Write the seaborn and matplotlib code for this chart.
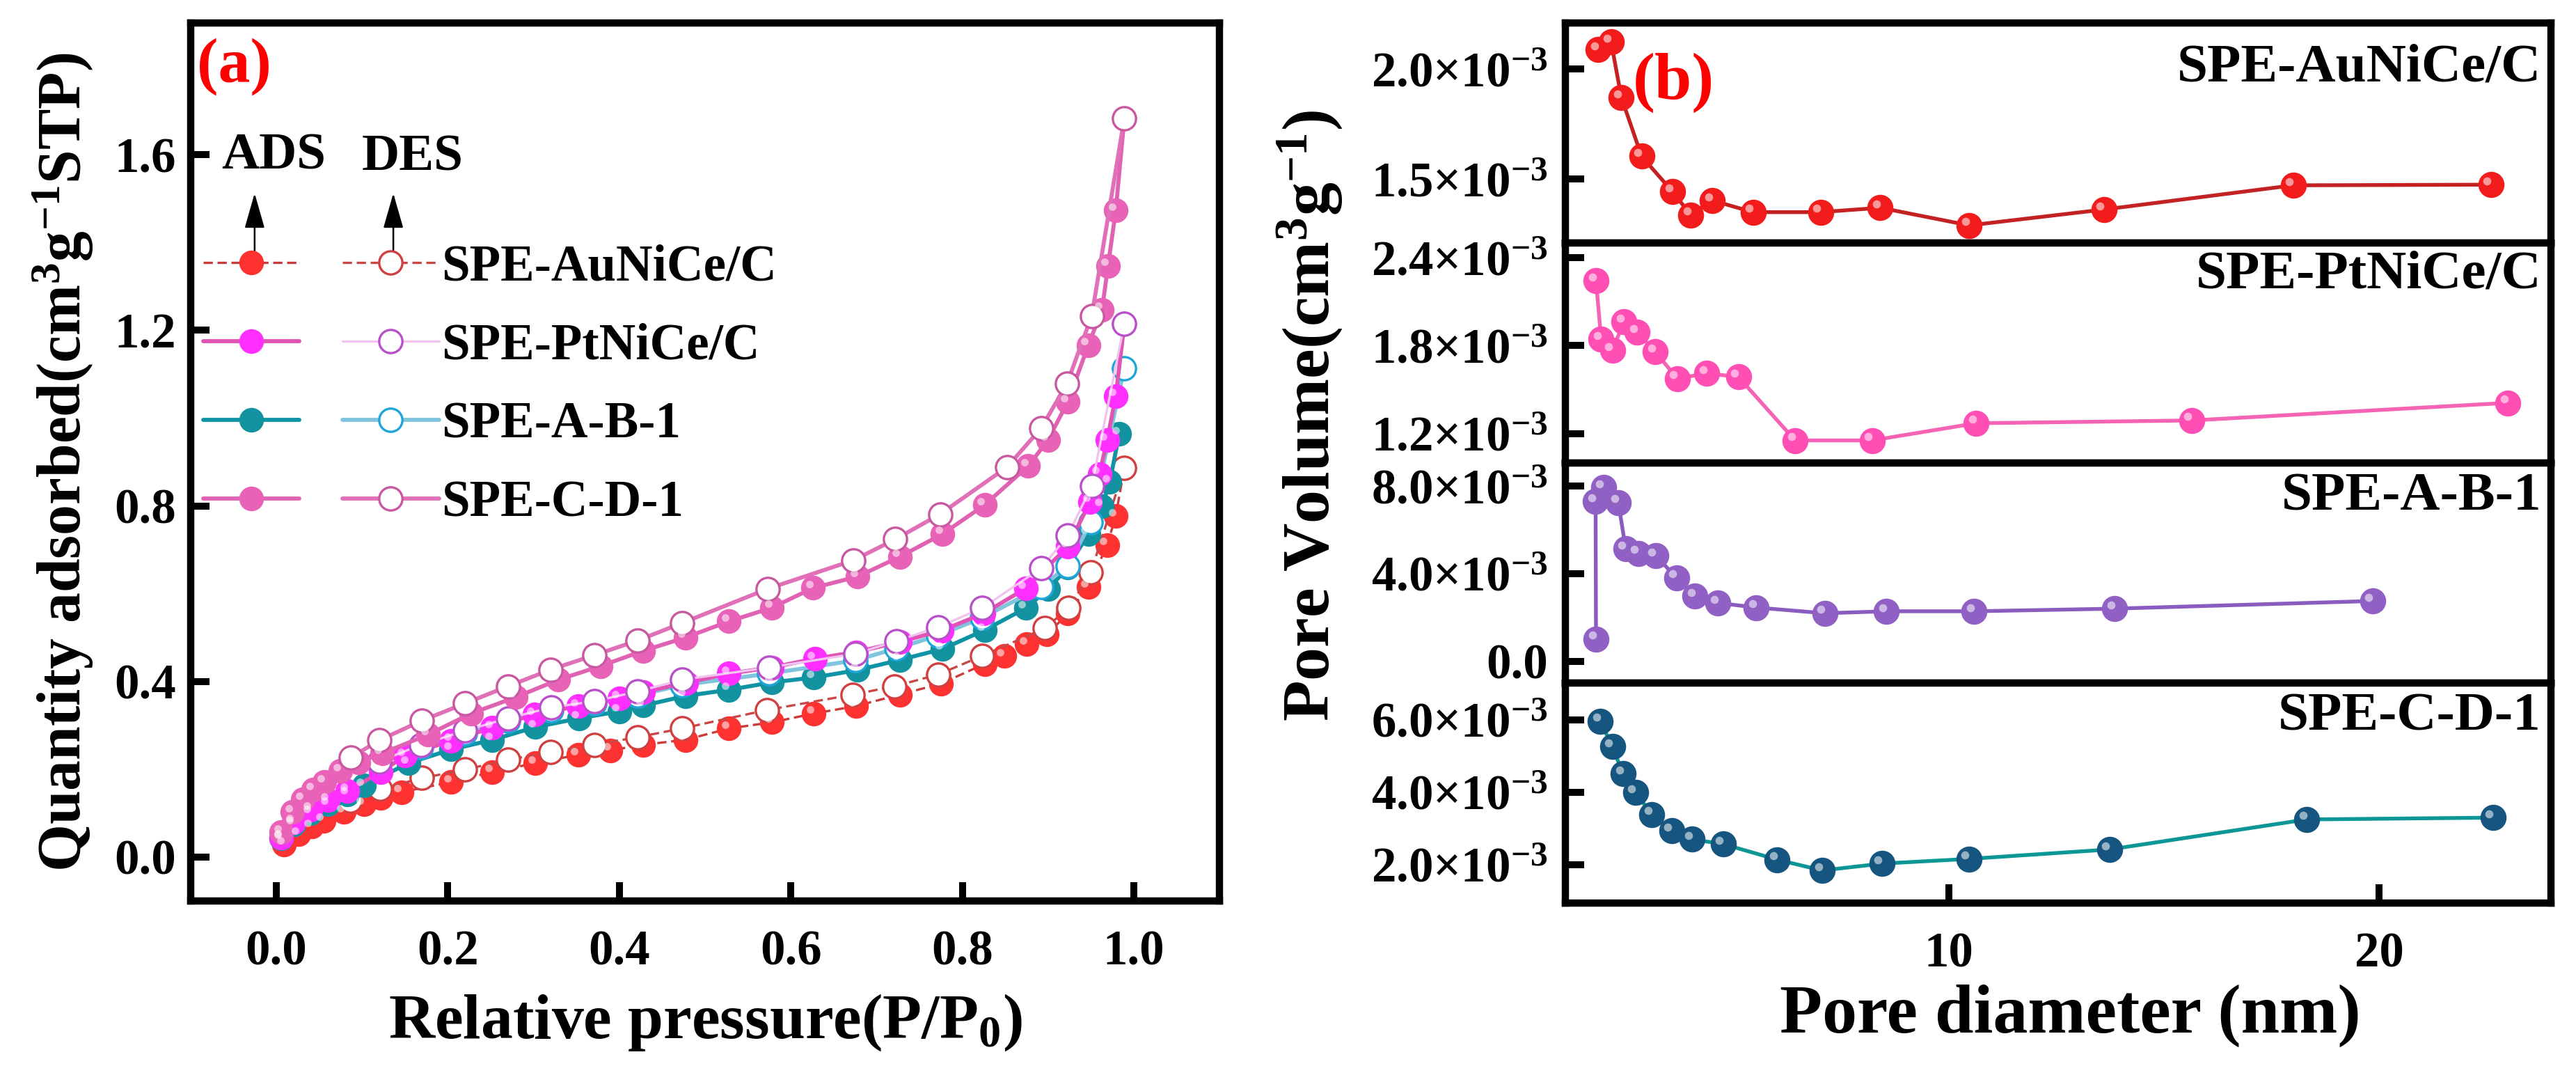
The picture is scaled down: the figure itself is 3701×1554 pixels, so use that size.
import seaborn as sns
import matplotlib.pyplot as plt
from matplotlib.ticker import FuncFormatter, FixedLocator
from matplotlib.transforms import ScaledTranslation

# sample names
samples = ['SPE-AuNiCe/C', 'SPE-PtNiCe/C', 'SPE-A-B-1', 'SPE-C-D-1']

# (a) N2 isotherms, relative pressure vs quantity adsorbed
au_ads_p = [0.009, 0.026, 0.041, 0.055, 0.079, 0.102, 0.122, 0.146, 0.204, 0.252, 0.302, 0.352, 0.390, 0.428, 0.477,
            0.528, 0.578, 0.627, 0.676, 0.727, 0.775, 0.826, 0.849, 0.875, 0.899, 0.923, 0.947, 0.969, 0.979, 0.989]
au_ads_q = [0.029, 0.052, 0.069, 0.083, 0.103, 0.120, 0.134, 0.148, 0.171, 0.194, 0.214, 0.233, 0.243, 0.256, 0.267,
            0.293, 0.307, 0.327, 0.344, 0.370, 0.395, 0.440, 0.458, 0.485, 0.507, 0.555, 0.615, 0.711, 0.777, 0.887]
au_des_p = [0.989, 0.950, 0.924, 0.896, 0.823, 0.772, 0.721, 0.672, 0.572, 0.473, 0.421, 0.371, 0.320, 0.270, 0.220,
            0.170, 0.121, 0.086]
au_des_q = [0.887, 0.649, 0.567, 0.521, 0.458, 0.416, 0.389, 0.370, 0.335, 0.293, 0.273, 0.256, 0.239, 0.222, 0.199,
            0.180, 0.155, 0.129]

pt_ads_p = [0.006, 0.020, 0.040, 0.060, 0.083, 0.122, 0.150, 0.204, 0.252, 0.301, 0.352, 0.400, 0.428, 0.478, 0.528,
            0.578, 0.628, 0.676, 0.727, 0.776, 0.825, 0.874, 0.923, 0.949, 0.960, 0.969, 0.979, 0.989]
pt_ads_q = [0.045, 0.080, 0.108, 0.130, 0.151, 0.194, 0.231, 0.265, 0.295, 0.325, 0.344, 0.362, 0.376, 0.397, 0.418,
            0.432, 0.452, 0.467, 0.490, 0.516, 0.555, 0.612, 0.707, 0.809, 0.873, 0.950, 1.050, 1.215]
pt_des_p = [0.989, 0.951, 0.923, 0.892, 0.823, 0.772, 0.723, 0.675, 0.575, 0.473, 0.421, 0.371, 0.321, 0.270, 0.220,
            0.169, 0.120]
pt_des_q = [1.215, 0.846, 0.732, 0.658, 0.567, 0.524, 0.492, 0.463, 0.432, 0.404, 0.377, 0.355, 0.341, 0.316, 0.288,
            0.256, 0.218]

ab_ads_p = [0.006, 0.020, 0.040, 0.060, 0.083, 0.102, 0.154, 0.204, 0.252, 0.302, 0.353, 0.400, 0.428, 0.477, 0.528,
            0.578, 0.627, 0.678, 0.727, 0.777, 0.826, 0.874, 0.900, 0.923, 0.947, 0.963, 0.972, 0.983]
ab_ads_q = [0.042, 0.075, 0.100, 0.120, 0.143, 0.163, 0.214, 0.245, 0.267, 0.296, 0.316, 0.332, 0.345, 0.367, 0.381,
            0.398, 0.409, 0.426, 0.449, 0.474, 0.517, 0.567, 0.610, 0.660, 0.736, 0.800, 0.854, 0.964]
ab_des_p = [0.989, 0.950, 0.923, 0.892, 0.823, 0.772, 0.723, 0.675, 0.575, 0.473, 0.421, 0.371, 0.321, 0.270, 0.220,
            0.169, 0.120]
ab_des_q = [1.114, 0.763, 0.663, 0.615, 0.545, 0.505, 0.475, 0.448, 0.418, 0.392, 0.368, 0.350, 0.335, 0.310, 0.283,
            0.250, 0.212]

cd_ads_p = [0.006, 0.019, 0.031, 0.043, 0.056, 0.075, 0.096, 0.123, 0.177, 0.227, 0.279, 0.329, 0.378, 0.428, 0.477,
            0.528, 0.578, 0.626, 0.678, 0.727, 0.777, 0.826, 0.877, 0.900, 0.923, 0.947, 0.963, 0.970, 0.979, 0.989]
cd_ads_q = [0.057, 0.103, 0.131, 0.153, 0.171, 0.196, 0.216, 0.236, 0.279, 0.327, 0.364, 0.404, 0.435, 0.470, 0.500,
            0.537, 0.568, 0.613, 0.639, 0.684, 0.736, 0.802, 0.891, 0.950, 1.037, 1.166, 1.247, 1.347, 1.473, 1.683]
cd_des_p = [0.989, 0.951, 0.922, 0.892, 0.852, 0.774, 0.722, 0.673, 0.573, 0.473, 0.421, 0.371, 0.320, 0.270, 0.220,
            0.170, 0.120, 0.087]
cd_des_q = [1.683, 1.233, 1.078, 0.977, 0.888, 0.781, 0.724, 0.676, 0.611, 0.533, 0.493, 0.460, 0.427, 0.389, 0.350,
            0.311, 0.266, 0.227]

# (b) pore size distribution, diameter (nm) vs pore volume (x1e-3 cm3/g)
au_d = [1.84, 2.14, 2.38, 2.85, 3.57, 3.99, 4.50, 5.44, 7.01, 8.40, 10.47, 13.6, 18.0, 22.6]
au_v = [2.089, 2.124, 1.871, 1.604, 1.443, 1.338, 1.403, 1.350, 1.350, 1.370, 1.290, 1.362, 1.472, 1.475]
pt_d = [1.79, 1.91, 2.17, 2.44, 2.75, 3.17, 3.68, 4.37, 5.10, 6.42, 8.21, 10.63, 15.64, 23.0]
pt_v = [2.243, 1.843, 1.769, 1.963, 1.890, 1.757, 1.576, 1.611, 1.587, 1.154, 1.154, 1.271, 1.290, 1.410]
ab_d = [1.79, 1.78, 1.96, 2.31, 2.48, 2.77, 3.18, 3.66, 4.09, 4.63, 5.52, 7.11, 8.54, 10.58, 13.85, 19.85]
ab_v = [1.02, 7.31, 7.94, 7.25, 5.14, 4.93, 4.82, 3.82, 2.98, 2.66, 2.45, 2.19, 2.28, 2.28, 2.40, 2.75]
cd_d = [1.89, 2.17, 2.42, 2.71, 3.09, 3.55, 4.03, 4.75, 6.00, 7.05, 8.44, 10.46, 13.73, 18.32, 22.65]
cd_v = [5.97, 5.26, 4.51, 3.99, 3.39, 2.94, 2.70, 2.57, 2.14, 1.84, 2.03, 2.16, 2.42, 3.25, 3.30]

sns.set_style('ticks')
plt.rcParams['font.family'] = ['Liberation Serif', 'DejaVu Serif']
plt.rcParams['font.weight'] = 'bold'
plt.rcParams['axes.labelweight'] = 'bold'
plt.rcParams['mathtext.fontset'] = 'custom'
plt.rcParams['mathtext.rm'] = 'Liberation Serif:bold'
plt.rcParams['mathtext.it'] = 'Liberation Serif:bold'
plt.rcParams['mathtext.bf'] = 'Liberation Serif:bold'
plt.rcParams['axes.linewidth'] = 2.5
plt.rcParams['axes.edgecolor'] = 'black'
plt.rcParams['text.color'] = 'black'
plt.rcParams['axes.labelcolor'] = 'black'
plt.rcParams['xtick.color'] = 'black'
plt.rcParams['ytick.color'] = 'black'

fig = plt.figure(figsize=(12.337, 5.18), dpi=300)
gl = fig.add_gridspec(1, 1, left=0.074, right=0.4734, bottom=0.1673, top=0.9788)
gr = fig.add_gridspec(4, 1, left=0.6077, right=0.9903, bottom=0.1654, top=0.9788, hspace=0)
ax = fig.add_subplot(gl[0])

# little white spot on filled balls
shine = ScaledTranslation(-1.3 / 72, 1.3 / 72, fig.dpi_scale_trans)


def ball_shine(a, x, y, size):
    a.plot(x, y, ls='none', marker='o', ms=size, mfc='white', mec='none', alpha=0.55,
           transform=a.transData + shine, zorder=5)


# ---------- (a) isotherms ----------
iso = [
    # ads x, ads y, des x, des y, fill, ads line, des edge, des line, ads lw, des lw, ls
    (au_ads_p, au_ads_q, au_des_p, au_des_q, '#FF3232', '#C83C3C', '#D04040', '#C84848', 0.8, 0.8, (0, (4, 2))),
    (ab_ads_p, ab_ads_q, ab_des_p, ab_des_q, '#12939F', '#0E94A4', '#1EA6D8', '#80C4DE', 1.4, 1.4, '-'),
    (pt_ads_p, pt_ads_q, pt_des_p, pt_des_q, '#FF30FF', '#E054B4', '#B850C8', '#F0C4EE', 1.4, 0.8, '-'),
    (cd_ads_p, cd_ads_q, cd_des_p, cd_des_q, '#E862B8', '#E062B2', '#C8589F', '#E070B8', 1.4, 1.4, '-'),
]
ads_handles = []
des_handles = []
for ax_p, ax_q, de_p, de_q, fill, aline, dedge, dline, alw, dlw, ls in iso:
    sns.lineplot(x=ax_p, y=ax_q, ax=ax, sort=False, estimator=None, color=aline, lw=alw, ls=ls,
                 marker='o', markersize=8, markerfacecolor=fill, markeredgecolor=fill, markeredgewidth=0.5)
    ads_handles.append(ax.get_lines()[-1])
    ball_shine(ax, ax_p, ax_q, 2.6)
    sns.lineplot(x=de_p, y=de_q, ax=ax, sort=False, estimator=None, color=dline, lw=dlw, ls=ls,
                 marker='o', markersize=8, markerfacecolor='white', markeredgecolor=dedge, markeredgewidth=0.8)
    des_handles.append(ax.get_lines()[-1])

# legend order: Au, Pt, A-B, C-D
order = [0, 2, 1, 3]
leg = ax.legend([ads_handles[i] for i in order] + [des_handles[i] for i in order],
                [''] * 4 + samples, ncol=2, loc='upper left', bbox_to_anchor=(0.012, 0.748),
                frameon=False, prop={'size': 17.5, 'weight': 'bold'}, handlelength=1.9,
                handletextpad=0.05, columnspacing=0.8, labelspacing=0.615, borderpad=0, borderaxespad=0)

ax.text(0.030, 0.834, 'ADS', transform=ax.transAxes, fontsize=18, fontweight='bold', va='baseline')
ax.text(0.166, 0.832, 'DES', transform=ax.transAxes, fontsize=18, fontweight='bold', va='baseline')
for xa in (0.0622, 0.197):
    ax.annotate('', xy=(xa, 0.806), xytext=(xa, 0.736), xycoords='axes fraction',
                arrowprops=dict(arrowstyle='-|>,head_length=0.35,head_width=0.1', color='black', lw=0.6,
                                mutation_scale=30, shrinkA=0, shrinkB=0))

ax.set_xlim(-0.1, 1.1)
ax.set_ylim(-0.1, 1.9)
ax.xaxis.set_major_locator(FixedLocator([0.0, 0.2, 0.4, 0.6, 0.8, 1.0]))
ax.yaxis.set_major_locator(FixedLocator([0.0, 0.4, 0.8, 1.2, 1.6]))
ax.xaxis.set_major_formatter(FuncFormatter(lambda v, p: f'{v:.1f}'))
ax.yaxis.set_major_formatter(FuncFormatter(lambda v, p: f'{v:.1f}'))
ax.tick_params(direction='in', length=6.5, width=2.4, labelsize=17, top=False, right=False)
ax.tick_params(axis='x', pad=10)
ax.tick_params(axis='y', pad=5)
ax.set_xlabel('Relative pressure(P/P$_0$)', fontsize=22, fontweight='bold')
ax.xaxis.set_label_coords(0.5, -0.104)
ax.xaxis.label.set_va('top')
ax.set_ylabel('Quantity adsorbed(cm$^3$g$^{-1}$STP)', fontsize=21, fontweight='bold')
ax.yaxis.set_label_coords(-0.093, 0.5)
ax.text(0.006, 0.933, '(a)', transform=ax.transAxes, color='red', fontsize=22, fontweight='bold', va='baseline')

# ---------- (b) pore size distribution ----------
psd = [
    (au_d, au_v, '#F21C1C', '#C42222', [1.5, 2.0], (1.21, 2.21), 0.735),
    (pt_d, pt_v, '#FF4FB4', '#F463B4', [1.2, 1.8, 2.4], (1.0, 2.5), 0.795),
    (ab_d, ab_v, '#9060C4', '#8A5CC0', [0.0, 4.0, 8.0], (-1.0, 9.06), 0.785),
    (cd_d, cd_v, '#155580', '#0C9696', [2.0, 4.0, 6.0], (0.94, 7.02), 0.785),
]


def sci_fmt(v, p):
    if abs(v) < 1e-9:
        return '0.0'
    return f'{v:.1f}×10$^{{-3}}$'


axes_r = []
for i, (dd, vv, mcol, lcol, yt, ylim, ty) in enumerate(psd):
    a = fig.add_subplot(gr[i], sharex=axes_r[0] if axes_r else None)
    axes_r.append(a)
    sns.lineplot(x=dd, y=vv, ax=a, sort=False, estimator=None, color=lcol, lw=1.3,
                 marker='o', markersize=8.5, markerfacecolor=mcol, markeredgecolor=mcol, markeredgewidth=0.5)
    ball_shine(a, dd, vv, 2.8)
    a.set_ylim(*ylim)
    a.yaxis.set_major_locator(FixedLocator(yt))
    a.yaxis.set_major_formatter(FuncFormatter(sci_fmt))
    a.tick_params(axis='y', direction='in', length=6.5, width=2.4, labelsize=17, pad=6, right=False)
    a.tick_params(axis='x', direction='in', length=6.5, width=2.4, labelsize=17, pad=10, top=False,
                  bottom=(i == 3), labelbottom=(i == 3))
    a.set_xlabel('')
    a.set_ylabel('')
    a.text(0.99, ty, samples[i], transform=a.transAxes, ha='right', va='baseline', fontsize=19, fontweight='bold')

axes_r[0].set_xlim(1.08, 24.0)
axes_r[0].xaxis.set_major_locator(FixedLocator([10, 20]))
axes_r[0].text(0.068, 0.655, '(b)', transform=axes_r[0].transAxes, color='red', fontsize=23,
               fontweight='bold', va='baseline')
axes_r[3].set_xlabel('Pore diameter (nm)', fontsize=24, fontweight='bold')
axes_r[3].xaxis.set_label_coords(0.512, -0.37)
axes_r[3].xaxis.label.set_va('top')
fig.text(0.5085, 0.616, 'Pore Volume(cm$^3$g$^{-1}$)', rotation=90, ha='center', va='center',
         fontsize=23, fontweight='bold')

fig.savefig('out.png', dpi=300)
